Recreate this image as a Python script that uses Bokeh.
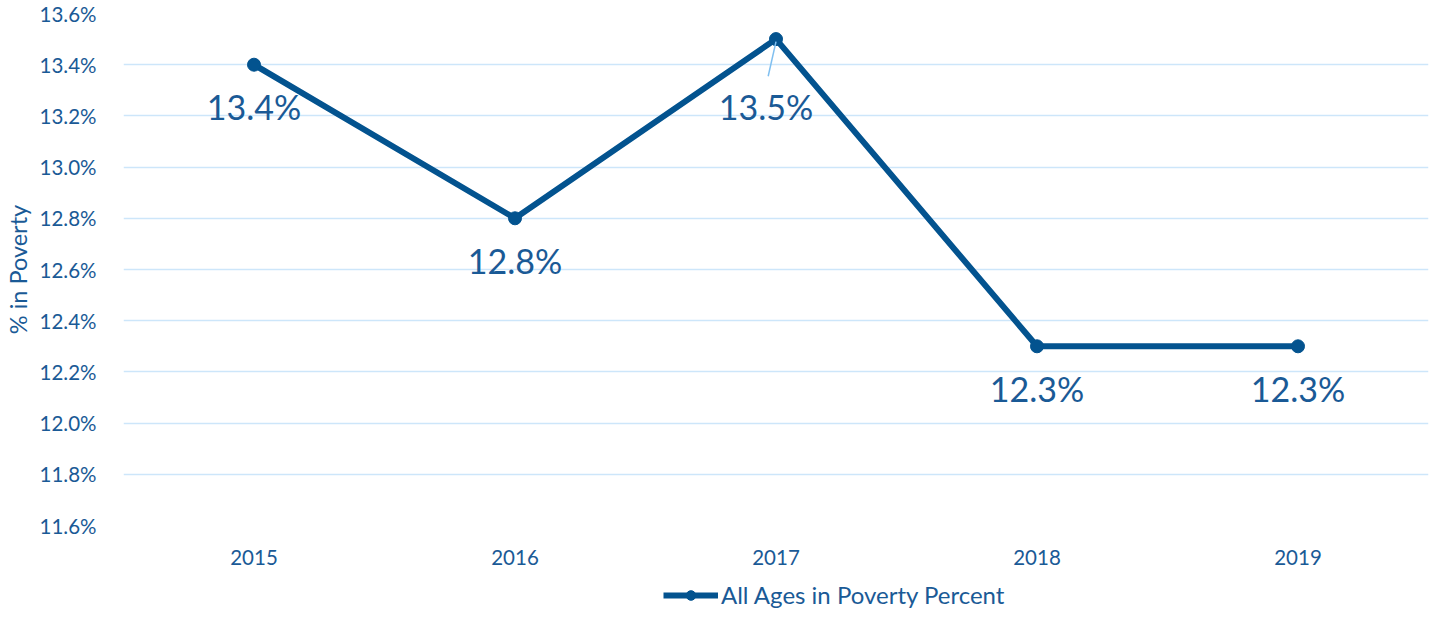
from bokeh.plotting import figure
from bokeh.layouts import column
from bokeh.models import (Range1d, FixedTicker, PrintfTickFormatter, ColumnDataSource,
                          Legend, LegendItem)
from bokeh.core.properties import value
from bokeh.embed import file_html
from bokeh.resources import INLINE

years = ["2015", "2016", "2017", "2018", "2019"]
poverty_pct = [13.4, 12.8, 13.5, 12.3, 12.3]
y_ticks = [11.6, 11.8, 12.0, 12.2, 12.4, 12.6, 12.8, 13.0, 13.2, 13.4, 13.6]
series_name = "All Ages in Poverty Percent"

FONT = "Lato"
LINE_C = "#03538F"
TEXT_C = "#1A5A96"
GRID_C = "#CDE6FA"

xs = list(range(len(years)))

p = figure(width=1429, height=580, output_backend="svg", toolbar_location=None,
           x_range=Range1d(-0.5, len(years) - 0.5), y_range=Range1d(11.6, 13.6),
           min_border_left=116, min_border_right=1, min_border_top=13, min_border_bottom=55)
p.outline_line_color = None
p.background_fill_color = "white"

# axes
p.xaxis.ticker = FixedTicker(ticks=xs)
p.xaxis.major_label_overrides = {i: y for i, y in enumerate(years)}
p.yaxis.ticker = FixedTicker(ticks=y_ticks)
p.yaxis.formatter = PrintfTickFormatter(format="%.1f%%")
for ax in (p.xaxis, p.yaxis):
    ax.axis_line_color = None
    ax.major_tick_line_color = None
    ax.minor_tick_line_color = None
    ax.major_label_text_font = FONT
    ax.major_label_text_color = TEXT_C
    ax.major_label_text_font_size = "20.5px"
p.xaxis.major_label_standoff = 18
p.yaxis.major_label_standoff = 21
p.yaxis.axis_label = "% in Poverty"
p.yaxis.axis_label_text_font = FONT
p.yaxis.axis_label_text_font_style = "normal"
p.yaxis.axis_label_text_color = TEXT_C
p.yaxis.axis_label_text_font_size = "23.5px"
p.yaxis.axis_label_standoff = 5

p.xgrid.grid_line_color = None
p.ygrid.grid_line_color = GRID_C
p.ygrid.grid_line_width = 1.5

src = ColumnDataSource(dict(x=xs, y=poverty_pct,
                            lab=["%.1f%%" % v for v in poverty_pct]))

line_style = dict(line_color=LINE_C, line_width=6)
marker_style = dict(size=13, fill_color=LINE_C, line_color=LINE_C)

p.line("x", "y", source=src, **line_style)
p.scatter("x", "y", source=src, **marker_style)

# data labels (below each point; the peak label pushed lower/left with a leader line)
peak = poverty_pct.index(max(poverty_pct))
src.data["xo"] = [(-10 if i == peak else 0) for i in range(len(xs))]
src.data["yo"] = [(67 if i == peak else 42) for i in range(len(xs))]
p.text("x", "y", text="lab", source=src, x_offset="xo", y_offset="yo",
       text_align="center", text_baseline="middle", text_font=value(FONT),
       text_font_size="34px", text_color=TEXT_C)

p.segment(x0=[xs[peak]], y0=[poverty_pct[peak] - 0.01],
          x1=[xs[peak] - 0.03], y1=[poverty_pct[peak] - 0.145],
          line_color="#7FBFF0", line_width=1.5)

# legend strip: a thin figure under the chart holding the legend
pl = figure(width=1429, height=33, output_backend="svg", toolbar_location=None,
            x_axis_location=None, y_axis_location=None,
            min_border_left=0, min_border_right=0, min_border_top=0, min_border_bottom=0)
pl.outline_line_color = None
pl.grid.visible = False
lg_line = pl.line("x", "y", source=src, visible=False, **line_style)
lg_mark = pl.scatter("x", "y", source=src, visible=False, **marker_style)

legend = Legend(items=[LegendItem(label=series_name, renderers=[lg_line, lg_mark])],
                location=(540, 4), orientation="horizontal",
                label_text_font=FONT, label_text_color=TEXT_C, label_text_font_size="24px",
                glyph_width=55, glyph_height=24, label_height=24,
                label_standoff=3, padding=0, margin=0, spacing=0,
                border_line_color=None, background_fill_alpha=0)
pl.add_layout(legend, "center")

layout = column(p, pl, spacing=0)
open("out.html", "w").write(file_html(layout, INLINE))
